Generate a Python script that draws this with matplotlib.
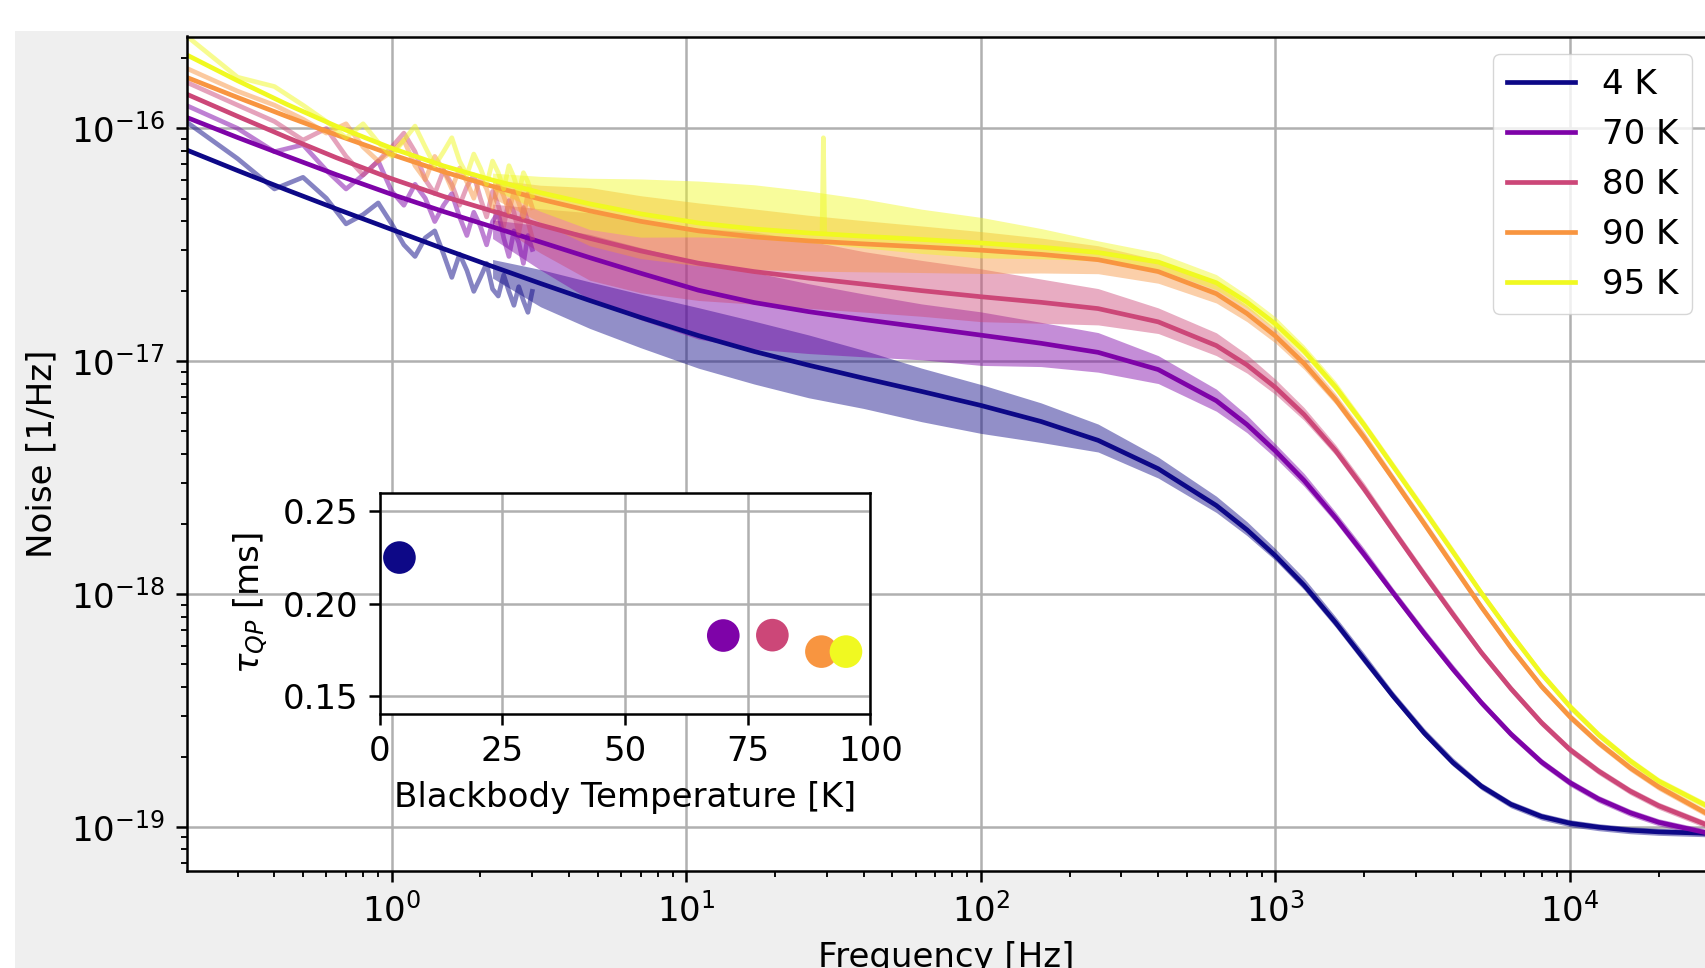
import numpy as np
import matplotlib
matplotlib.use('Agg')
import matplotlib.pyplot as plt
from matplotlib.patches import Rectangle

# ---------------- data (log10 of noise in 1/Hz) ----------------
labels = ['4 K', '70 K', '80 K', '90 K', '95 K']
temps = [4, 70, 80, 90, 95]
tau_qp = [0.2249, 0.1827, 0.1829, 0.1740, 0.1740]

# fit curves
fit_f = [0.2, 0.3, 0.44, 0.65, 1, 1.5, 2.2, 3.2, 4.7, 7, 11, 17, 26, 40, 63, 100, 160, 250,
         400, 630, 800, 1000, 1250, 1600, 2000, 2500, 3200, 4000, 5000, 6300, 8000, 10000,
         12500, 16000, 20000, 29000]
fit_4K = [-16.091, -16.181, -16.264, -16.346, -16.434, -16.517, -16.593, -16.666, -16.739,
          -16.812, -16.890, -16.958, -17.017, -17.073, -17.130, -17.190, -17.259, -17.340,
          -17.462, -17.620, -17.724, -17.836, -17.962, -18.123, -18.280, -18.437, -18.598,
          -18.724, -18.826, -18.904, -18.956, -18.985, -19.002, -19.015, -19.022, -19.028]
fit_70K = [-15.951, -16.039, -16.119, -16.199, -16.283, -16.357, -16.423, -16.488, -16.555,
           -16.622, -16.695, -16.748, -16.787, -16.821, -16.854, -16.888, -16.923, -16.962,
           -17.036, -17.170, -17.272, -17.386, -17.512, -17.673, -17.830, -17.993, -18.170,
           -18.323, -18.467, -18.602, -18.722, -18.811, -18.881, -18.940, -18.981, -19.026]
fit_80K = [-15.851, -15.948, -16.038, -16.126, -16.216, -16.292, -16.355, -16.415, -16.472,
           -16.526, -16.579, -16.615, -16.643, -16.669, -16.697, -16.723, -16.747, -16.774,
           -16.831, -16.933, -17.016, -17.113, -17.229, -17.384, -17.549, -17.724, -17.917,
           -18.087, -18.252, -18.407, -18.553, -18.669, -18.761, -18.847, -18.910, -18.991]
fit_90K = [-15.779, -15.867, -15.948, -16.028, -16.112, -16.186, -16.249, -16.304, -16.354,
           -16.399, -16.440, -16.466, -16.483, -16.496, -16.509, -16.523, -16.541, -16.564,
           -16.615, -16.710, -16.795, -16.892, -17.010, -17.165, -17.328, -17.503, -17.699,
           -17.878, -18.056, -18.231, -18.397, -18.528, -18.640, -18.747, -18.829, -18.942]
fit_95K = [-15.682, -15.795, -15.896, -15.991, -16.085, -16.161, -16.222, -16.276, -16.324,
           -16.367, -16.406, -16.432, -16.449, -16.463, -16.477, -16.492, -16.510, -16.533,
           -16.574, -16.663, -16.746, -16.840, -16.956, -17.111, -17.274, -17.449, -17.642,
           -17.819, -17.996, -18.171, -18.343, -18.484, -18.605, -18.717, -18.804, -18.909]

# low-frequency measured spectra (sparse bins)
low_f = [0.2, 0.3, 0.4, 0.5, 0.6, 0.7, 0.8, 0.9, 1.0, 1.1, 1.2, 1.3, 1.4, 1.5, 1.6,
         1.7, 1.8, 1.9, 2.0, 2.1, 2.2, 2.3, 2.4, 2.5, 2.6, 2.7, 2.8, 2.9, 3.0]
low_4K = [-15.97, -16.13, -16.26, -16.21, -16.30, -16.41, -16.37, -16.32, -16.41, -16.50,
          -16.55, -16.47, -16.44, -16.54, -16.64, -16.54, -16.61, -16.70, -16.64, -16.58,
          -16.69, -16.72, -16.63, -16.70, -16.76, -16.68, -16.74, -16.79, -16.70]
low_70K = [-15.90, -16.00, -16.10, -16.07, -16.18, -16.26, -16.20, -16.14, -16.27, -16.33,
           -16.24, -16.30, -16.40, -16.33, -16.28, -16.38, -16.46, -16.36, -16.42, -16.50,
           -16.40, -16.36, -16.47, -16.55, -16.44, -16.49, -16.58, -16.46, -16.52]
low_80K = [-15.80, -15.90, -15.97, -16.05, -16.00, -16.12, -16.20, -16.14, -16.08, -16.02,
           -16.10, -16.22, -16.28, -16.18, -16.24, -16.33, -16.25, -16.20, -16.30, -16.38,
           -16.27, -16.33, -16.42, -16.31, -16.36, -16.45, -16.34, -16.40, -16.47]
low_90K = [-15.74, -15.84, -15.90, -15.96, -16.02, -15.98, -16.08, -16.14, -16.10, -16.05,
           -16.16, -16.22, -16.12, -16.18, -16.26, -16.17, -16.23, -16.30, -16.21, -16.26,
           -16.34, -16.24, -16.29, -16.36, -16.27, -16.32, -16.38, -16.28, -16.34]
low_95K = [-15.60, -15.78, -15.82, -15.90, -15.97, -16.04, -15.98, -16.06, -16.12, -16.05,
           -15.99, -16.08, -16.16, -16.10, -16.04, -16.14, -16.20, -16.11, -16.17, -16.24,
           -16.14, -16.19, -16.26, -16.16, -16.21, -16.28, -16.19, -16.23, -16.29]

# dense measured spectra (f >= 2.2 Hz): spread of the noisy trace above / below the fit (dex)
band_f = fit_f[6:]
up_4K = [0.03, 0.06, 0.08, 0.10, 0.12, 0.13, 0.13, 0.12, 0.10, 0.09, 0.08, 0.07, 0.05, 0.04,
         0.035, 0.03, 0.03, 0.025, 0.025, 0.02, 0.02, 0.02, 0.015, 0.015, 0.015, 0.015, 0.015,
         0.015, 0.015, 0.015]
dn_4K = [0.05, 0.10, 0.12, 0.13, 0.14, 0.14, 0.14, 0.13, 0.13, 0.12, 0.09, 0.05, 0.04, 0.03,
         0.025, 0.02, 0.02, 0.02, 0.02, 0.015, 0.015, 0.015, 0.015, 0.015, 0.015, 0.015, 0.015,
         0.015, 0.015, 0.015]
up_70K = [0.03, 0.07, 0.10, 0.11, 0.12, 0.13, 0.12, 0.11, 0.10, 0.10, 0.09, 0.085, 0.06, 0.05,
          0.04, 0.03, 0.03, 0.025, 0.025, 0.02, 0.02, 0.02, 0.015, 0.015, 0.015, 0.015, 0.015,
          0.015, 0.015, 0.015]
dn_70K = [0.05, 0.12, 0.18, 0.20, 0.21, 0.20, 0.18, 0.16, 0.14, 0.13, 0.10, 0.085, 0.06, 0.045,
          0.035, 0.03, 0.025, 0.02, 0.02, 0.015, 0.015, 0.015, 0.015, 0.015, 0.015, 0.015, 0.015,
          0.015, 0.015, 0.015]
up_80K = [0.03, 0.07, 0.11, 0.13, 0.15, 0.17, 0.16, 0.14, 0.13, 0.12, 0.10, 0.086, 0.06, 0.055,
          0.045, 0.035, 0.03, 0.025, 0.025, 0.02, 0.02, 0.02, 0.015, 0.015, 0.015, 0.015, 0.015,
          0.015, 0.015, 0.015]
dn_80K = [0.05, 0.12, 0.18, 0.18, 0.16, 0.14, 0.13, 0.12, 0.11, 0.107, 0.09, 0.07, 0.05, 0.043,
          0.035, 0.03, 0.025, 0.02, 0.02, 0.015, 0.015, 0.015, 0.015, 0.015, 0.015, 0.015, 0.015,
          0.015, 0.015, 0.015]
up_90K = [0.03, 0.06, 0.10, 0.11, 0.12, 0.12, 0.11, 0.10, 0.09, 0.08, 0.07, 0.06, 0.05, 0.04,
          0.035, 0.03, 0.03, 0.025, 0.025, 0.02, 0.02, 0.02, 0.015, 0.015, 0.015, 0.015, 0.015,
          0.015, 0.015, 0.015]
dn_90K = [0.05, 0.10, 0.15, 0.16, 0.15, 0.14, 0.13, 0.12, 0.11, 0.10, 0.08, 0.06, 0.05, 0.04,
          0.035, 0.03, 0.025, 0.02, 0.02, 0.015, 0.015, 0.015, 0.015, 0.015, 0.015, 0.015, 0.015,
          0.015, 0.015, 0.015]
up_95K = [0.03, 0.07, 0.11, 0.15, 0.18, 0.19, 0.18, 0.16, 0.13, 0.11, 0.08, 0.05, 0.04, 0.035,
          0.03, 0.03, 0.025, 0.025, 0.02, 0.02, 0.02, 0.02, 0.015, 0.015, 0.015, 0.015, 0.015,
          0.015, 0.015, 0.015]
dn_95K = [0.04, 0.08, 0.11, 0.10, 0.06, 0.04, 0.04, 0.05, 0.06, 0.064, 0.05, 0.036, 0.03, 0.03,
          0.025, 0.025, 0.02, 0.02, 0.02, 0.015, 0.015, 0.015, 0.015, 0.015, 0.015, 0.015, 0.015,
          0.015, 0.015, 0.015]

# narrow line in the 95 K spectrum
spike_f = [28.9, 29.2, 29.5]
spike_95K = [-16.45, -16.04, -16.45]

fits = [fit_4K, fit_70K, fit_80K, fit_90K, fit_95K]
lows = [low_4K, low_70K, low_80K, low_90K, low_95K]
ups = [up_4K, up_70K, up_80K, up_90K, up_95K]
dns = [dn_4K, dn_70K, dn_80K, dn_90K, dn_95K]

# ---------------- style ----------------
S = 2.25
FS = 24.5
plt.rcParams.update({
    'font.family': ['DejaVu Sans'],
    'font.size': FS,
    'axes.linewidth': 0.8 * S,
    'lines.linewidth': 1.5 * S,
    'xtick.major.size': 3.5 * S, 'ytick.major.size': 3.5 * S,
    'xtick.minor.size': 2 * S, 'ytick.minor.size': 2 * S,
    'xtick.major.width': 0.8 * S, 'ytick.major.width': 0.8 * S,
    'xtick.minor.width': 0.6 * S, 'ytick.minor.width': 0.6 * S,
    'xtick.major.pad': 3.5 * S, 'ytick.major.pad': 3.5 * S,
    'grid.linewidth': 0.8 * S,
    'grid.color': '#b0b0b0',
    'axes.labelpad': 4 * S,
    'legend.fontsize': FS,
})

W, H = 1706, 968
fig = plt.figure(figsize=(W / 100, H / 100), dpi=100)
fig.patch.set_facecolor('white')
fig.patches.append(Rectangle((15 / W, 0), 1, (H - 31) / H, transform=fig.transFigure,
                             facecolor='#efefef', edgecolor='none', zorder=-10))

ax = fig.add_axes([187 / W, 1 - 870.5 / H, 1 - 187 / W, (870.5 - 36.5) / H])
ax.set_xscale('log')
ax.set_yscale('log')
ax.spines['right'].set_visible(False)
ax.set_axisbelow(True)

colors = plt.cm.plasma(np.linspace(0, 1, 5))

for i in range(5):
    c = colors[i]
    ax.plot(low_f, 10 ** np.array(lows[i]), color=c, alpha=0.5, lw=1.5 * S)
    fb = np.array(fits[i][6:])
    ax.fill_between(band_f, 10 ** (fb + np.array(ups[i])), 10 ** (fb - np.array(dns[i])),
                    color=c, alpha=0.45, lw=0)
    if i == 4:
        ax.plot(spike_f, 10 ** np.array(spike_95K), color=c, alpha=0.5, lw=1.5 * S)
    ax.plot(fit_f, 10 ** np.array(fits[i]), color=c, lw=1.5 * S, label=labels[i])

ax.set_xlim(10 ** -0.6948, 10 ** 4.4614)
ax.set_ylim(10 ** -19.188, 10 ** -15.605)
ax.grid(True, which='major')
ax.set_xlabel('Frequency [Hz]')
ax.set_ylabel('Noise [1/Hz]')

ax.legend(loc='upper right', bbox_to_anchor=(1692 / W, 1 - 54 / H),
          bbox_transform=fig.transFigure, borderaxespad=0)

# inset
axin = fig.add_axes([379.8 / W, 1 - 713.5 / H, 490.7 / W, 220.8 / H])
axin.set_axisbelow(True)
axin.scatter(temps, tau_qp, c=colors, s=23.5 ** 2, linewidths=0, zorder=3)
axin.set_xlim(0, 100)
axin.set_ylim(0.1405, 0.26)
axin.set_xticks([0, 25, 50, 75, 100])
axin.set_yticks([0.15, 0.20, 0.25])
axin.set_yticklabels(['0.15', '0.20', '0.25'])
axin.grid(True)
axin.set_xlabel('Blackbody Temperature [K]')
axin.set_ylabel(r'$\tau_{QP}$ [ms]')

fig.savefig('out.png', dpi=100)
